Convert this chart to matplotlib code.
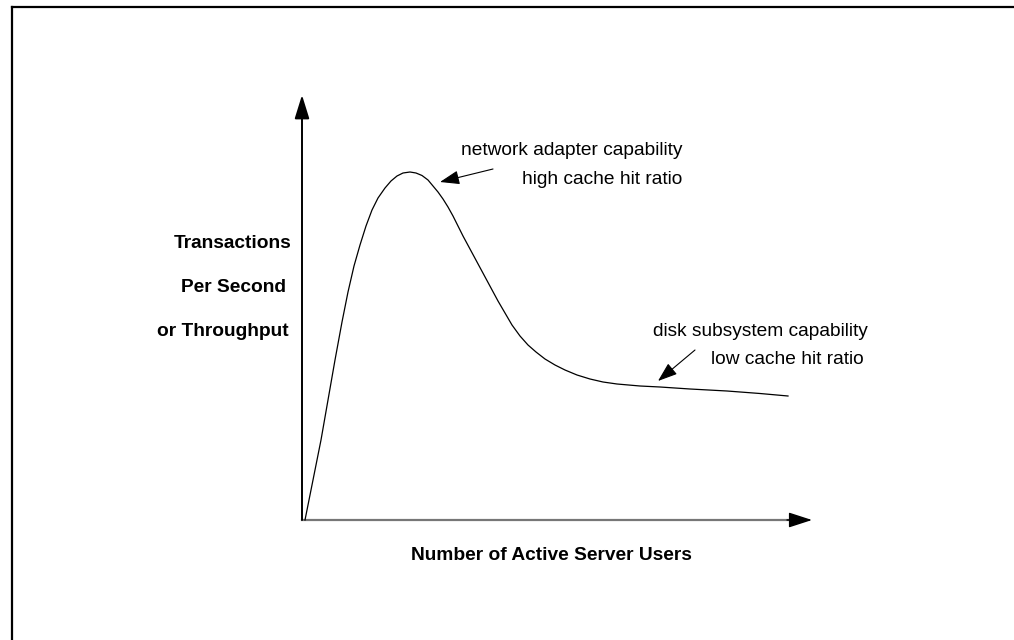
import matplotlib
matplotlib.use("Agg")
import matplotlib.pyplot as plt
from matplotlib.lines import Line2D

plt.rcParams['font.family'] = ['Liberation Sans', 'DejaVu Sans']

# Кривая пропускной способности (условные единицы: ось X 0..510, ось Y 0..425)
users = [3, 11, 19, 26, 33, 40, 46, 52, 58, 64, 70, 76, 83, 89, 95, 101, 108, 114,
         120, 126, 131, 136, 141, 146, 151, 156, 161, 168, 175, 182, 189, 196, 203,
         210, 218, 226, 234, 243, 253, 263, 275, 288, 301, 315, 338, 358, 388, 425,
         458, 486]
throughput = [0, 40, 80, 120, 160, 198, 228, 254, 275, 294, 310, 322, 332, 339, 344,
              347, 348, 347, 344.5, 340, 334, 328, 321, 313, 304, 294, 284, 271, 258,
              245, 232, 219, 207, 195, 184, 175, 168, 161, 155, 150, 145, 141, 138,
              136, 134, 133, 131, 129, 126.5, 124]

y_labels = ["Transactions", "Per Second", "or Throughput"]
x_label = "Number of Active Server Users"
peak_note = ["network adapter capability", "high cache hit ratio"]
tail_note = ["disk subsystem capability", "low cache hit ratio"]

W, H = 1014, 640
fig = plt.figure(figsize=(W / 100, H / 100), dpi=100)
fig.patch.set_facecolor('white')

# рамка (видны только верх и левая сторона)
fig.add_artist(Line2D([12 / W, 1], [1 - 7 / H, 1 - 7 / H], color='black', lw=1.6))
fig.add_artist(Line2D([12 / W, 12 / W], [0, 1 - 7 / H], color='black', lw=1.6))

ax = fig.add_axes([302 / W, (H - 520) / H, 510 / W, 425 / H])
ax.set_xlim(0, 510)
ax.set_ylim(0, 425)
ax.axis('off')

# оси со стрелками
ax.annotate('', xy=(0, 425), xytext=(0, 0),
            arrowprops=dict(arrowstyle='-|>,head_length=1.45,head_width=0.45',
                            mutation_scale=10, lw=1.4, color='black',
                            shrinkA=0, shrinkB=0), annotation_clip=False)
ax.plot([0, 495], [0, 0], color='#777777', lw=1.6, clip_on=False)
ax.annotate('', xy=(510, 0), xytext=(485, 0),
            arrowprops=dict(arrowstyle='-|>,head_length=1.45,head_width=0.47',
                            mutation_scale=10, lw=1.0, color='black',
                            shrinkA=0, shrinkB=0), annotation_clip=False)

ax.plot(users, throughput, color='black', lw=0.9, clip_on=False,
        solid_joinstyle='round')

fs = 13.8
# подписи оси Y
for lab, x, y in zip(y_labels, [-11, -16, -13], [277, 232, 188]):
    ax.text(x, y, lab, ha='right', va='center', fontsize=fs, fontweight='bold')
ax.text(249, -36, x_label, ha='center', va='center', fontsize=fs, fontweight='bold')

# пояснения
ax.text(269.5, 370, peak_note[0], ha='center', va='center', fontsize=fs)
ax.text(380, 341, peak_note[1], ha='right', va='center', fontsize=fs)
ax.text(458, 188, tail_note[0], ha='center', va='center', fontsize=fs)
ax.text(485, 160, tail_note[1], ha='center', va='center', fontsize=fs)

arrow_kw = dict(arrowstyle='-|>,head_length=1.2,head_width=0.43', mutation_scale=10,
                lw=0.8, color='black', shrinkA=0, shrinkB=0)
ax.annotate('', xy=(138, 338), xytext=(191, 351), arrowprops=arrow_kw)
ax.annotate('', xy=(356, 139), xytext=(393, 170), arrowprops=arrow_kw)

fig.savefig('out.png', dpi=100)
